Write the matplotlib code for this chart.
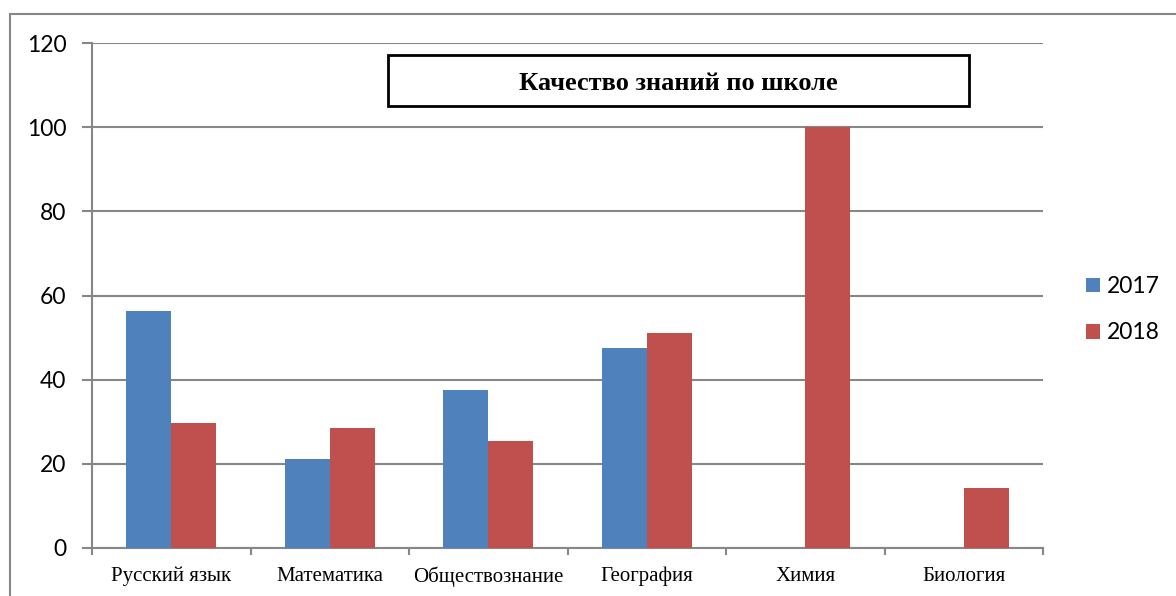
import matplotlib
matplotlib.use("Agg")
import matplotlib.pyplot as plt
import numpy as np
from matplotlib.patches import Rectangle

subjects = ["Русский язык", "Математика", "Обществознание", "География", "Химия", "Биология"]
years = ["2017", "2018"]
vals_2017 = [56.4, 21.2, 37.6, 47.5, 0, 0]
vals_2018 = [29.8, 28.6, 25.5, 51.1, 100, 14.2]
yticks = [0, 20, 40, 60, 80, 100, 120]
title = "Качество знаний по школе"

blue = "#4F81BD"
red = "#C0504D"
grid_c = "#878787"

fig = plt.figure(figsize=(11.76, 5.96), dpi=100)
ax = fig.add_axes([92 / 1176, 1 - 548 / 596, (1043 - 92) / 1176, (548 - 43) / 596])

x = np.arange(len(subjects))
w = 0.284
b1 = ax.bar(x - w / 2, vals_2017, w, color=blue, label=years[0], zorder=3)
b2 = ax.bar(x + w / 2, vals_2018, w, color=red, label=years[1], zorder=3)

ax.set_xlim(-0.5, len(subjects) - 0.5)
ax.set_ylim(0, 120)
ax.set_yticks(yticks)
ax.set_yticklabels([str(v) for v in yticks], fontfamily="Lato", fontsize=16.5)
ax.set_xticks(x)
ax.set_xticklabels(subjects, fontfamily="Liberation Serif", fontsize=15)
ax.tick_params(axis="x", length=0, pad=13.5)
ax.set_xticks(np.arange(-0.5, len(subjects)), minor=True)
ax.tick_params(axis="x", which="minor", length=5, width=1.5, color=grid_c)
ax.tick_params(axis="y", length=7, width=1.5, color=grid_c, pad=11.5)

ax.grid(axis="y", color=grid_c, linewidth=1.5, zorder=0)
for s in ["top", "right"]:
    ax.spines[s].set_visible(False)
for s in ["left", "bottom"]:
    ax.spines[s].set_color(grid_c)
    ax.spines[s].set_linewidth(1.5)

# title box
fig.patches.append(Rectangle((388 / 1176, 1 - 106 / 596), (969 - 388) / 1176, 51 / 596,
                             transform=fig.transFigure, facecolor="white",
                             edgecolor="black", linewidth=2, zorder=5))
fig.text(678 / 1176, 1 - 83.5 / 596, title, ha="center", va="center",
         fontfamily="Liberation Serif", fontweight="bold", fontsize=19, zorder=6)

# outer chart frame (left and top edges visible)
fig.patches.append(Rectangle((10 / 1176, -0.1), 1.2, 1 - 14 / 596 + 0.1,
                             transform=fig.transFigure, facecolor="none",
                             edgecolor=grid_c, linewidth=1.5))

leg = ax.legend(handles=[b1, b2], loc="center left", bbox_to_anchor=(1.024, 0.472),
                frameon=False, prop={"family": "Lato", "size": 16.5},
                handlelength=0.61, handleheight=0.61, handletextpad=0.3, labelspacing=1.1)

fig.savefig("out.png", dpi=100)
